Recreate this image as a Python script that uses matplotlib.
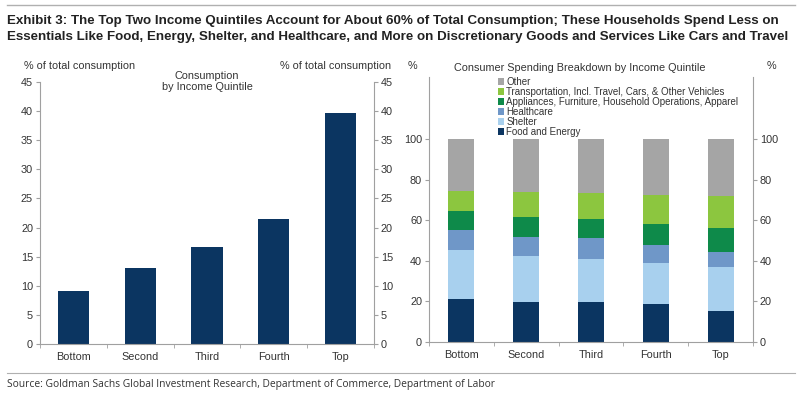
import matplotlib.pyplot as plt
import numpy as np
from matplotlib.patches import Patch
from matplotlib.lines import Line2D

plt.rcParams['font.family'] = ['Liberation Sans', 'DejaVu Sans']

quintiles = ['Bottom', 'Second', 'Third', 'Fourth', 'Top']
consumption = [9.1, 13.1, 16.7, 21.5, 39.6]

# spending shares by category (% of each quintile's spending)
food_energy = [21.2, 19.9, 19.5, 18.7, 15.1]
shelter = [24.3, 22.6, 21.6, 20.2, 21.8]
healthcare = [9.5, 9.2, 10.0, 8.7, 7.4]
appliances = [9.4, 9.9, 9.7, 10.5, 11.9]
transport = [10.1, 12.3, 12.4, 14.5, 15.7]
other = [25.5, 26.1, 26.8, 27.4, 28.1]

series = [
    ('Food and Energy', food_energy, '#0b3561'),
    ('Shelter', shelter, '#a8d0ee'),
    ('Healthcare', healthcare, '#6f97c8'),
    ('Appliances, Furniture, Household Operations, Apparel', appliances, '#0e8a4a'),
    ('Transportation, Incl. Travel, Cars, & Other Vehicles', transport, '#8cc63f'),
    ('Other', other, '#a5a5a5'),
]

W, H = 803, 396
fig = plt.figure(figsize=(W / 100, H / 100), dpi=100)

def axrect(x0, y0, x1, y1):
    return [x0 / W, 1 - y1 / H, (x1 - x0) / W, (y1 - y0) / H]

spine_col = '#a0a0a0'
txt_col = '#333333'
fs = 7.8

def style(ax):
    ax.spines['top'].set_visible(False)
    for s in ['left', 'right', 'bottom']:
        ax.spines[s].set_color(spine_col)
        ax.spines[s].set_linewidth(0.8)
    ax.tick_params(axis='y', which='both', left=True, right=True, labelleft=True,
                   labelright=True, direction='out', length=3, color=spine_col,
                   labelsize=fs, labelcolor=txt_col, pad=2)
    ax.tick_params(axis='x', which='major', length=0, labelsize=fs,
                   labelcolor=txt_col, pad=6)
    ax.tick_params(axis='x', which='minor', length=3, color=spine_col, direction='out')
    ax.set_xticks(np.arange(len(quintiles)))
    ax.set_xticklabels(quintiles)
    ax.set_xticks(np.arange(len(quintiles) + 1) - 0.5, minor=True)
    ax.set_xlim(-0.5, len(quintiles) - 0.5)

# left chart
ax1 = fig.add_axes(axrect(40, 82, 374, 344))
x = np.arange(len(quintiles))
ax1.bar(x, consumption, width=0.47, color='#0b3561')
ax1.set_ylim(0, 45)
ax1.set_yticks(np.arange(0, 46, 5))
style(ax1)

# right chart
ax2 = fig.add_axes(axrect(429, 77, 753, 342))
bottom = np.zeros(len(quintiles))
for name, vals, col in series:
    ax2.bar(x, vals, width=0.4, bottom=bottom, color=col)
    bottom += np.array(vals)
ax2.set_ylim(0, 100 * (342 - 77) / (342 - 139))
ax2.set_yticks(np.arange(0, 101, 20))
style(ax2)

handles = [Patch(facecolor=col, edgecolor='none') for name, vals, col in series][::-1]
labels = [name for name, vals, col in series][::-1]
leg = ax2.legend(handles, labels, loc='upper left', bbox_to_anchor=(0.2, 1.015),
                 frameon=False, prop={'family': 'Liberation Sans', 'size': 7.0},
                 handlelength=0.6, handleheight=0.6,
                 handletextpad=0.3, labelspacing=0.0, borderaxespad=0)
for t in leg.get_texts():
    t.set_color(txt_col)

# axis unit labels and chart titles
fig.text(24 / W, 1 - 66 / H, '% of total consumption', fontsize=fs, color=txt_col, va='center')
fig.text(391 / W, 1 - 66 / H, '% of total consumption', fontsize=fs, color=txt_col,
         va='center', ha='right')
fig.text(207 / W, 1 - 81.5 / H, 'Consumption\nby Income Quintile', fontsize=fs,
         color=txt_col, va='center', ha='center', linespacing=1.1)
fig.text(412 / W, 1 - 66 / H, '%', fontsize=fs, color=txt_col, va='center', ha='center')
fig.text(771 / W, 1 - 66 / H, '%', fontsize=fs, color=txt_col, va='center', ha='center')
fig.text(580 / W, 1 - 68 / H, 'Consumer Spending Breakdown by Income Quintile',
         fontsize=fs, color=txt_col, va='center', ha='center')

# title, rules and source
fig.add_artist(Line2D([7 / W, 795 / W], [1 - 5 / H, 1 - 5 / H], color='#b0b0b0', lw=1))
fig.add_artist(Line2D([7 / W, 795 / W], [1 - 373 / H, 1 - 373 / H], color='#b0b0b0', lw=0.8))
fig.text(7 / W, 1 - 15 / H,
         'Exhibit 3: The Top Two Income Quintiles Account for About 60% of Total Consumption; '
         'These Households Spend Less on\nEssentials Like Food, Energy, Shelter, and Healthcare, '
         'and More on Discretionary Goods and Services Like Cars and Travel',
         fontsize=9.6, fontweight='bold', color='#222222', va='top', ha='left',
         linespacing=1.4, family=['Liberation Sans Narrow', 'Liberation Sans'])
fig.text(7 / W, 1 - 384 / H,
         'Source: Goldman Sachs Global Investment Research, Department of Commerce, Department of Labor',
         fontsize=7.4, color=txt_col, va='center', ha='left',
         family=['Open Sans', 'DejaVu Sans'])

fig.savefig('out.png', dpi=100)
